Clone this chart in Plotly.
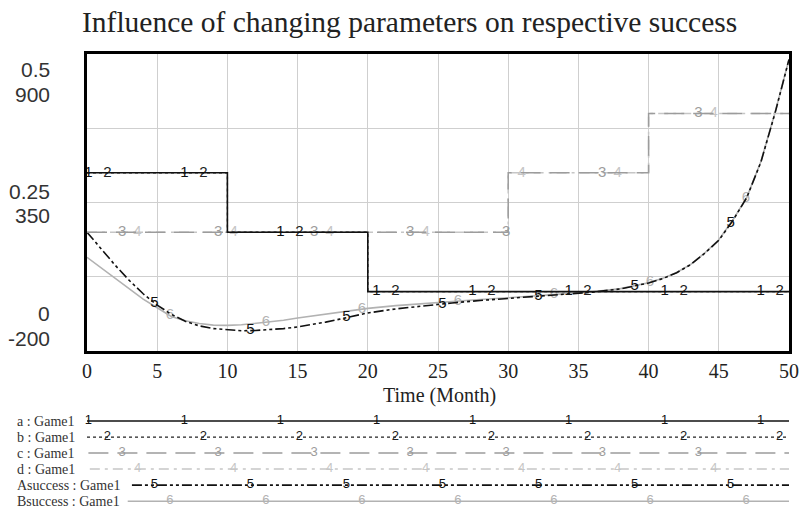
import numpy as np
import plotly.graph_objects as go

# ---------------- data ----------------
# parameter step series (left scale 0 .. 0.5)
t_ab = [0, 10, 20, 50]
a_vals = [0.3, 0.2, 0.1, 0.1]
b_vals = [0.3, 0.2, 0.1, 0.1]
t_cd = [0, 30, 40, 50]
c_vals = [0.2, 0.3, 0.4, 0.4]
d_vals = [0.2, 0.3, 0.4, 0.4]

# success series (right scale -200 .. 900)
t_success = [0, 1, 2, 3, 4, 5, 6, 7, 8, 9, 10, 11, 12, 13, 14, 15, 16, 17, 18, 19,
             20, 22, 24, 26, 28, 30, 32, 34, 36, 38, 40, 41, 42, 43, 44, 45, 46,
             47, 48, 49, 50]
asuccess = [240, 178, 118, 62, 12, -30, -64, -90, -107, -117, -122, -125, -124,
            -121, -117, -111, -103, -93, -82, -70, -59, -44, -32, -22, -13, -5,
            3, 10, 18, 30, 52, 68, 90, 120, 162, 210, 283, 369, 500, 680, 880]
bsuccess = [147, 108, 70, 30, -8, -40, -72, -88, -98, -104, -105, -103, -98,
            -93, -86, -78, -71, -64, -56, -49, -42, -32, -24, -16, -9, -3,
            4, 11, 19, 31, 53, 69, 91, 121, 163, 212, 285, 370, 502, 682, 880]

x_ticks = list(range(0, 51, 5))
scale_param = [0, 0.5]
scale_success = [-200, 900]
y_label_pairs = [("0.5", "900"), ("0.25", "350"), ("0", "-200")]

series_names = ["a : Game1", "b : Game1", "c : Game1", "d : Game1",
                "Asuccess : Game1", "Bsuccess : Game1"]
series_marks = ["1", "2", "3", "4", "5", "6"]

title_text = "Influence of changing parameters on respective success"
x_title = "Time (Month)"

# ---------------- styles ----------------
W, H = 804, 511
ML, MR, MT, MB = 87, 12, 54, 5
PH = H - MT - MB
def py(p):  # pixel y -> paper y
    return (H - MB - p) / PH
def px(p):  # pixel x -> paper x
    return (p - ML) / (W - ML - MR)

styles = [
    dict(color="#111111", width=1.6, dash="solid"),
    dict(color="#222222", width=1.3, dash="3px,3px"),
    dict(color="#9c9c9c", width=1.5, dash="20px,9px"),
    dict(color="#c6c6c6", width=1.5, dash="10px,5px,3px,5px"),
    dict(color="#111111", width=1.6, dash="10px,3px,3px,3px,3px,3px"),
    dict(color="#b2b2b2", width=1.6, dash="solid"),
]
mark_offsets = [0.1, 1.45, 2.5, 3.6, 4.8, 5.9]
period = 6.84

def mark_ts(off):
    ts = []
    t = off
    while t <= 50.2:
        ts.append(min(t, 50))
        t += period
    return ts

def step_at(tx, ty, t):
    i = np.searchsorted(tx, t, side="right") - 1
    return ty[max(0, min(i, len(ty) - 1))]

fig = go.Figure()

series = [
    ("step", t_ab, a_vals, "y2"),
    ("step", t_ab, b_vals, "y2"),
    ("step", t_cd, c_vals, "y2"),
    ("step", t_cd, d_vals, "y2"),
    ("curve", t_success, asuccess, "y"),
    ("curve", t_success, bsuccess, "y"),
]
order = [3, 2, 5, 1, 0, 4]

for i in order:
    kind, tx, ty, yax = series[i]
    st = styles[i]
    fig.add_trace(go.Scatter(
        x=tx, y=ty, mode="lines", xaxis="x", yaxis=yax,
        line=dict(color=st["color"], width=st["width"], dash=st["dash"],
                  shape="hv" if kind == "step" else "linear"),
        hoverinfo="skip"))
    ts = mark_ts(mark_offsets[i])
    if kind == "step":
        ys = [step_at(tx, ty, t) for t in ts]
    else:
        ys = list(np.interp(ts, tx, ty))
    fig.add_trace(go.Scatter(
        x=ts, y=ys, mode="text", text=[series_marks[i]] * len(ts),
        xaxis="x", yaxis=yax, textposition="middle center",
        textfont=dict(family="Liberation Sans", size=15, color=st["color"]),
        hoverinfo="skip", cliponaxis=False))

# legend rows (bottom)
legend_starts = [0, 0, 0.1, 0.2, 3.2, 2.9]
for i in range(6):
    st = styles[i]
    row = 5 - i
    fig.add_trace(go.Scatter(
        x=[legend_starts[i], 50], y=[row, row], mode="lines",
        xaxis="x3", yaxis="y3",
        line=dict(color=st["color"], width=st["width"], dash=st["dash"]),
        hoverinfo="skip"))
    ts = [t for t in mark_ts(mark_offsets[i]) if t >= legend_starts[i]]
    fig.add_trace(go.Scatter(
        x=ts, y=[row] * len(ts), mode="text", text=[series_marks[i]] * len(ts),
        xaxis="x3", yaxis="y3", textposition="middle center",
        textfont=dict(family="Liberation Sans", size=13, color=st["color"]),
        hoverinfo="skip", cliponaxis=False))

annotations = []
annotations.append(dict(text=title_text, x=px(411), y=py(22), xref="paper", yref="paper",
                        showarrow=False, xanchor="center", yanchor="middle",
                        font=dict(family="Liberation Serif", size=29.5, color="#222222")))
annotations.append(dict(text=x_title, x=px(441), y=py(395), xref="paper", yref="paper",
                        showarrow=False, xanchor="center", yanchor="middle",
                        font=dict(family="Liberation Serif", size=20, color="#222222")))
label_y = [(69, 95), (191, 215), (313, 338)]
for (top, bot), (ly1, ly2) in zip(y_label_pairs, label_y):
    for txt, yy in ((top, ly1), (bot, ly2)):
        annotations.append(dict(text=txt, x=px(52), y=py(yy), xref="paper", yref="paper",
                                showarrow=False, xanchor="right", yanchor="middle",
                                font=dict(family="Liberation Sans", size=21, color="#333333")))
row_pix = [421, 437, 453, 469, 485, 501]
for name, rp in zip(series_names, row_pix):
    annotations.append(dict(text=name, x=px(15), y=py(rp), xref="paper", yref="paper",
                            showarrow=False, xanchor="left", yanchor="middle",
                            font=dict(family="Liberation Serif", size=14, color="#333333")))

main_bottom = py(351)
leg_top = py(413)

fig.update_layout(
    width=W, height=H, margin=dict(l=ML, r=MR, t=MT, b=MB),
    paper_bgcolor="white", plot_bgcolor="white", showlegend=False,
    annotations=annotations,
    xaxis=dict(domain=[0, 1], range=[0, 50], tickvals=x_ticks, anchor="y",
               showgrid=True, gridcolor="#cfcfcf", gridwidth=1, zeroline=False,
               showline=True, mirror=True, linewidth=3, linecolor="black",
               ticks="", ticklabelstandoff=0,
               tickfont=dict(family="Liberation Serif", size=20, color="#222222")),
    yaxis=dict(domain=[main_bottom, 1], range=scale_success,
               tickvals=list(np.linspace(scale_success[0], scale_success[1], 5)),
               showticklabels=False, showgrid=True, gridcolor="#cfcfcf", gridwidth=1,
               zeroline=False, showline=True, mirror=True, linewidth=3,
               linecolor="black", ticks=""),
    yaxis2=dict(overlaying="y", range=scale_param, visible=False),
    xaxis3=dict(domain=[0, 1], range=[0, 50], anchor="y3", visible=False),
    yaxis3=dict(domain=[0, leg_top], range=[-0.3, 5.5], anchor="x3", visible=False),
)

fig.write_html("out.html", config={"displayModeBar": False},
               post_script="document.body.style.margin='0px';")
